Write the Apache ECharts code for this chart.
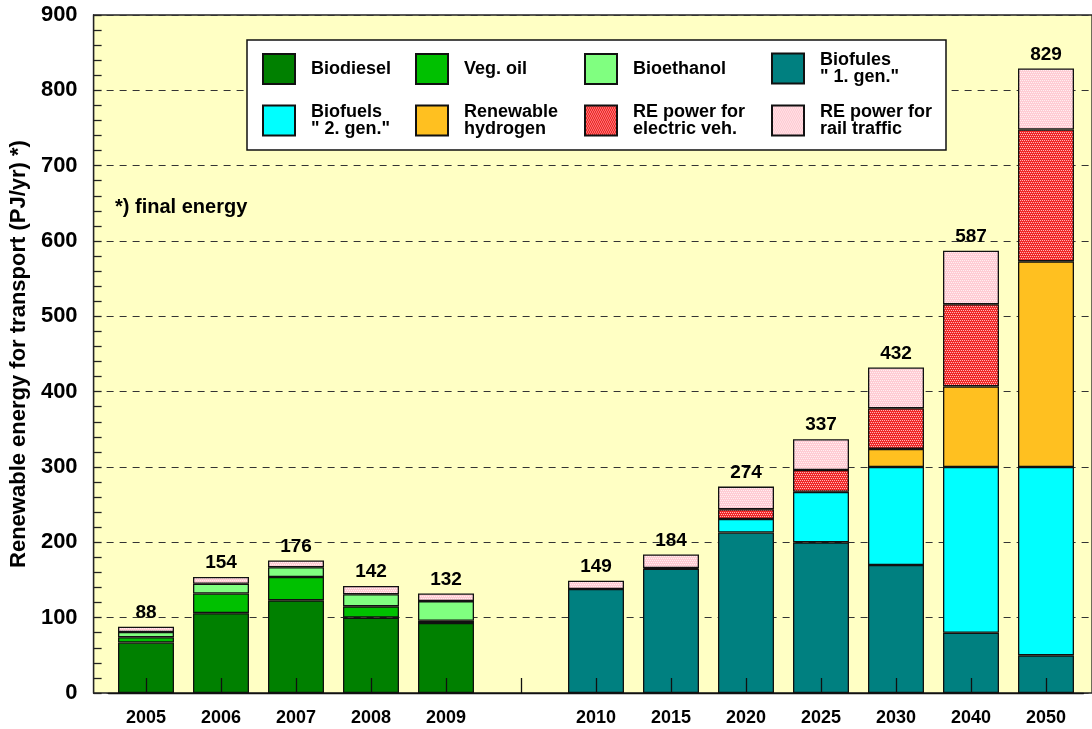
<!DOCTYPE html>
<html>
<head>
<meta charset="utf-8">
<script src="https://cdn.jsdelivr.net/npm/echarts@6/dist/echarts.min.js"></script>
<style>
html,body{margin:0;padding:0;background:#fff;}
#chart{width:1092px;height:729px;}
</style>
</head>
<body>
<div id="chart"></div>
<script>
const categories = ['2005','2006','2007','2008','2009','','2010','2015','2020','2025','2030','2040','2050'];
const biodiesel  = [67,106,123,100,93,null,null,null,null,null,null,null,null];
const vegOil     = [7,26,31,15,3,null,null,null,null,null,null,null,null];
const bioethanol = [7,13,13,16,26,null,null,null,null,null,null,null,null];
const biofuels1  = [null,null,null,null,null,null,138,165,213,200,170,80,50];
const biofuels2  = [null,null,null,null,null,null,null,null,18,67,130,220,250];
const hydrogen   = [null,null,null,null,null,null,null,null,null,null,24,107,273];
const reElectric = [null,null,null,null,null,null,null,1,13,29,54,109,175];
const reRail     = [7,9,9,11,10,null,11,18,30,41,54,71,81];
const totals     = [88,154,176,142,132,null,149,184,274,337,432,587,829];
const yTicks = {min:0, max:900, interval:100};

const FONT = 'Liberation Sans, Arial, sans-serif';

function pattern(bg, dot){
  const c = document.createElement('canvas');
  c.width = 4; c.height = 4;
  const g = c.getContext('2d');
  g.fillStyle = bg; g.fillRect(0,0,4,4);
  g.fillStyle = dot;
  g.fillRect(0,0,1,1); g.fillRect(2,0,1,1);
  g.fillRect(1,2,1,1); g.fillRect(3,2,1,1);
  return {image:c, repeat:'repeat'};
}

const seriesDefs = [
  {name:'Biodiesel', data:biodiesel, color:'#008000'},
  {name:'Veg. oil', data:vegOil, color:'#00C000'},
  {name:'Bioethanol', data:bioethanol, color:'#80FF80'},
  {name:'Biofules\n" 1. gen."', data:biofuels1, color:'#008080'},
  {name:'Biofuels\n" 2. gen."', data:biofuels2, color:'#00FFFF'},
  {name:'Renewable\nhydrogen', data:hydrogen, color:'#FFC020'},
  {name:'RE power for\nelectric veh.', data:reElectric, color:pattern('#F02828','#FFB8B8')},
  {name:'RE power for\nrail traffic', data:reRail, color:pattern('#FFCCD4','#FFF0F2')}
];

const legendPos = [
  [262,53],[415,53],[584,53],[771,51],
  [262,103],[415,103],[584,103],[771,103]
];

const series = seriesDefs.map(s => ({
  type:'bar', name:s.name, stack:'total', data:s.data,
  xAxisIndex:1, yAxisIndex:1, barWidth:56,
  itemStyle:{color:s.color, borderColor:'#111', borderWidth:1.3},
  emphasis:{disabled:true}
}));
series.push({
  type:'scatter', name:'totals', data:totals, xAxisIndex:1, yAxisIndex:1,
  symbolSize:1, itemStyle:{color:'transparent', opacity:1}, silent:true, z:10,
  label:{show:true, position:'top', distance:4, color:'#000', opacity:1, fontFamily:FONT,
         fontWeight:'bold', fontSize:19}
});

const legends = seriesDefs.map((s,i) => ({
  data:[{name:s.name, icon:'rect'}], left:legendPos[i][0], top:legendPos[i][1],
  orient:'horizontal', itemWidth:32, itemHeight:30, selectedMode:false, z:20,
  padding:0,
  textStyle:{fontFamily:FONT, fontWeight:'bold', fontSize:18, color:'#000',
             lineHeight:17, padding:[0,0,0,11]}
}));

const option = {
  backgroundColor:'#fff',
  animation:false,
  textStyle:{fontFamily:FONT},
  legend: legends,
  graphic:[
    {type:'rect', shape:{x:247, y:40, width:699, height:110}, z:15,
     style:{fill:'#fff', stroke:'#111', lineWidth:1.5}},
    {type:'text', left:115, top:197, z:15,
     style:{text:'*) final energy', fontFamily:FONT, fontWeight:'bold', fontSize:20, fill:'#000'}}
  ],
  grid:[
    {left:93, right:-2, top:15, bottom:36, show:true, backgroundColor:'#FFFFC4',
     borderColor:'#222', borderWidth:1.3},
    {left:108.5, right:8.5, top:15, bottom:36}
  ],
  xAxis:[
    {type:'value', gridIndex:0, min:0, max:1, show:false},
    {type:'category', gridIndex:1, data:categories, boundaryGap:true, z:6,
     axisLine:{show:true, lineStyle:{color:'#111', width:1.3}},
     axisTick:{show:true, inside:true, alignWithLabel:true, length:15, lineStyle:{color:'#111', width:1.3}},
     axisLabel:{color:'#000', fontFamily:FONT, fontWeight:'bold', fontSize:18, margin:16, interval:0},
     splitLine:{show:false}}
  ],
  yAxis:[
    {type:'value', gridIndex:0, min:yTicks.min, max:yTicks.max, interval:yTicks.interval,
     name:'Renewable energy for transport (PJ/yr) *)', nameLocation:'middle', nameGap:59,
     nameTextStyle:{color:'#000', fontFamily:FONT, fontWeight:'bold', fontSize:22},
     axisLine:{show:true, lineStyle:{color:'#222', width:1.3}},
     axisTick:{show:true, inside:true, length:8, lineStyle:{color:'#222', width:1.3}},
     minorTick:{show:true, splitNumber:5, length:8, lineStyle:{color:'#222', width:1.3}},
     axisLabel:{color:'#000', fontFamily:FONT, fontWeight:'bold', fontSize:22, margin:16},
     splitLine:{show:true, lineStyle:{color:'#333', width:1.2, type:[7,6]}}},
    {type:'value', gridIndex:1, min:yTicks.min, max:yTicks.max, interval:yTicks.interval, show:false,
     splitLine:{show:false}}
  ],
  series: series
};

const chart = echarts.init(document.getElementById('chart'), null, {renderer:'canvas'});
chart.setOption(option);
</script>
</body>
</html>
